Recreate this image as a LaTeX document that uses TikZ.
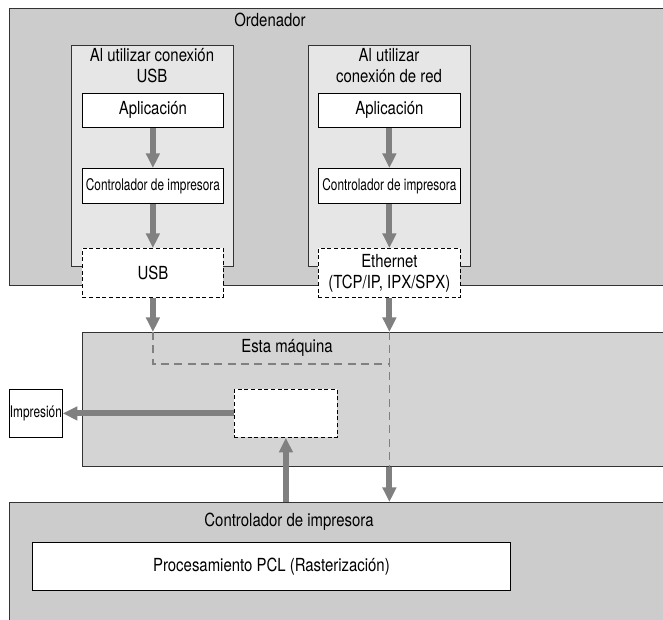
\documentclass[tikz,border=0pt]{standalone}
\usepackage{fontspec}
\setmainfont{TeX Gyre Heros}[FakeStretch=0.83]
\newfontfamily\narrowfont{TeX Gyre Heros}[FakeStretch=0.74]
\usepackage{tikz}
\usetikzlibrary{arrows.meta}

\definecolor{pcgrey}{RGB}{204,204,204}
\definecolor{panelgrey}{RGB}{230,230,230}
\definecolor{machgrey}{RGB}{212,212,212}
\definecolor{flowgrey}{RGB}{128,128,128}

\tikzset{
  bigbox/.style={draw=black!80, line width=0.7pt, fill=pcgrey, anchor=north west, inner sep=0pt},
  panelbox/.style={draw=black!80, line width=0.6pt, fill=panelgrey, anchor=north west, inner sep=0pt},
  whitebox/.style={draw=black, line width=0.6pt, fill=white, anchor=north west, inner sep=0pt},
  portbox/.style={whitebox, dash pattern=on 3pt off 2pt},
  boxtext/.style={inner sep=0.75pt, align=center, font=\fontsize{13.5}{15.75}\selectfont},
  smalltext/.style={inner sep=0.75pt, align=center, font=\narrowfont\fontsize{12}{14}\selectfont},
  flow/.style={draw=flowgrey, line width=4.5pt, -{Triangle[width=10pt,length=11pt]}},
  routeline/.style={draw=flowgrey, line width=1.2pt, dash pattern=on 6pt off 4pt}
}

\begin{document}
\begin{tikzpicture}[x=0.75pt,y=0.75pt,yscale=-1,xscale=1]
\clip (0,0) rectangle (663,620);

% Ordenador
\node[bigbox, minimum width=495.75pt, minimum height=207.75pt] (ord) at (9,8) {};
\node[boxtext] (ordlbl) at (270,20) {Ordenador};

% USB panel
\node[panelbox, minimum width=121.5pt, minimum height=165.75pt] (usbpanel) at (71,45) {};
\node[boxtext] (usblbl) at (152,66) {Al utilizar conexión\\USB};
\node[whitebox, minimum width=105.75pt, minimum height=25.5pt] (app1) at (82,93) {};
\node[boxtext] at (app1.center) {Aplicación};
\node[whitebox, minimum width=105.75pt, minimum height=26.25pt] (drv1) at (82,168) {};
\node[smalltext] at (drv1.center) {Controlador de impresora};
\node[portbox, minimum width=105.75pt, minimum height=36.75pt] (usb) at (82,248) {};
\node[boxtext] at (usb.center) {USB};

% network panel
\node[panelbox, minimum width=121.5pt, minimum height=165.75pt] (redpanel) at (308,45) {};
\node[boxtext] (redlbl) at (389,66) {Al utilizar\\conexión de red};
\node[whitebox, minimum width=106.5pt, minimum height=25.5pt] (app2) at (318,93) {};
\node[boxtext] at (app2.center) {Aplicación};
\node[whitebox, minimum width=106.5pt, minimum height=26.25pt] (drv2) at (318,168) {};
\node[smalltext] at (drv2.center) {Controlador de impresora};
\node[portbox, minimum width=106.5pt, minimum height=36.75pt] (eth) at (318,248) {};
\node[boxtext] at (eth.center) {Ethernet\\(TCP/IP, IPX/SPX)};

% Esta maquina
\node[bigbox, fill=machgrey, minimum width=441pt, minimum height=100.5pt] (maq) at (82,332) {};
\node[boxtext] (maqlbl) at (287,348) {Esta máquina};
\node[portbox, minimum width=77.25pt, minimum height=36pt] (proc) at (234,389) {};
\node[whitebox, minimum width=39.75pt, minimum height=36pt] (imp) at (9,389) {};
\node[smalltext] at (imp.center) {Impresión};

% Controlador de impresora
\node[bigbox, minimum width=495.75pt, minimum height=97.5pt] (ctrl) at (9,502) {};
\node[boxtext] (ctrllbl) at (289,522) {Controlador de impresora};
\node[whitebox, minimum width=358.5pt, minimum height=36pt] (pcl) at (32,542) {};
\node[boxtext] at (pcl.center) {Procesamiento PCL (Rasterización)};

% routes inside the machine
\coordinate (usbin) at (usb.south |- maq.north);
\coordinate (ethin) at (eth.south |- maq.north);
\coordinate (ethout) at (eth.south |- maq.south);
\draw[routeline] (usbin) -- ++(0,32) -| (ethin);
\draw[routeline] (ethin) -- (ethout);

% flow arrows
\draw[flow] (app1.south) -- (drv1.north);
\draw[flow] (drv1.south) -- (usb.north);
\draw[flow] (app2.south) -- (drv2.north);
\draw[flow] (drv2.south) -- (eth.north);
\draw[flow] (usb.south) -- (usbin);
\draw[flow] (eth.south) -- (ethin);
\draw[flow] (ethout) -- (eth.south |- ctrl.north);
\draw[flow] (proc.south |- ctrl.north) -- (proc.south);
\draw[flow] (proc.west) -- (imp.east);

\end{tikzpicture}
\end{document}
